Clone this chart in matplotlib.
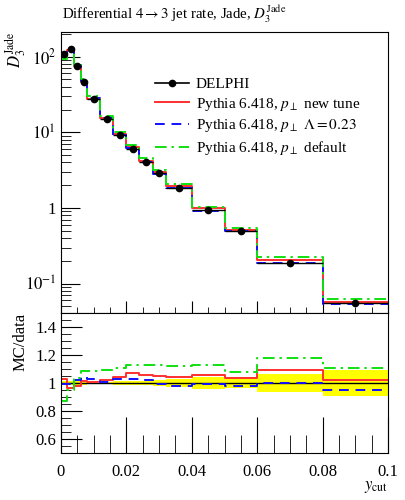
import numpy as np
import matplotlib
matplotlib.use("Agg")
import matplotlib.pyplot as plt
from matplotlib.lines import Line2D
from matplotlib.ticker import FixedLocator, MultipleLocator, LogLocator, NullFormatter

plt.rcParams["font.family"] = ["Liberation Serif", "DejaVu Serif"]
plt.rcParams["mathtext.fontset"] = "stix"

# bin edges in y_cut
edges = np.array([0.0, 0.002, 0.004, 0.006, 0.008, 0.012, 0.016, 0.020, 0.024,
                  0.028, 0.032, 0.040, 0.050, 0.060, 0.080, 0.100])

# DELPHI data and relative uncertainty
data = np.array([108, 125, 76, 46, 27.7, 15.1, 9.1, 6.0, 4.0, 2.86, 1.85, 0.93,
                 0.50, 0.19, 0.056])
data_rel_err = np.array([0.014, 0.012, 0.012, 0.012, 0.01, 0.01, 0.012, 0.015,
                         0.015, 0.02, 0.03, 0.04, 0.035, 0.065, 0.095])

# Pythia 6.418 predictions
mc_newtune = np.array([111.3, 120.8, 74.5, 46.6, 27.8, 15.4, 9.51, 6.42, 4.24,
                       3.01, 1.93, 0.986, 0.519, 0.207, 0.0573])
mc_lambda = np.array([106.9, 123.8, 77.9, 48.1, 28.4, 15.25, 9.37, 6.18, 4.08,
                      2.846, 1.813, 0.925, 0.490, 0.190, 0.0532])
mc_default = np.array([94.0, 118.8, 78.7, 50.0, 30.0, 16.53, 10.07, 6.78, 4.52,
                       3.22, 2.07, 1.047, 0.538, 0.224, 0.0622])

series = [
    (mc_newtune, "#ff3030", "-", r"Pythia 6.418, $p_\perp$ new tune"),
    (mc_lambda, "#1010ff", (0, (5, 3.5)), r"Pythia 6.418, $p_\perp$ $\Lambda = 0.23$"),
    (mc_default, "#10e010", (0, (6, 2.5, 1.2, 2.5)), r"Pythia 6.418, $p_\perp$ default"),
]

xticks = [0, 0.02, 0.04, 0.06, 0.08, 0.1]
xticklabels = ["0", "0.02", "0.04", "0.06", "0.08", "0.1"]

centers = 0.5 * (edges[:-1] + edges[1:])
halfw = 0.5 * np.diff(edges)

def stepvals(v):
    return np.append(v, v[-1])

fig = plt.figure(figsize=(4.06, 5.0), dpi=100)
ax = fig.add_axes([0.150, 0.374, 0.806, 0.562])
rax = fig.add_axes([0.150, 0.094, 0.806, 0.280])

# main panel
handles, labels = [], []
for vals, col, ls, lab in series:
    ln, = ax.step(edges, stepvals(vals), where="post", color=col, ls=ls, lw=1.4)
    handles.append(ln)
    labels.append(lab)
ax.errorbar(centers, data, xerr=halfw, yerr=data * data_rel_err, fmt="o",
            color="black", ms=4.5, lw=1.0, capsize=0, zorder=5)
handles.insert(0, Line2D([], [], color="black", lw=1.2, marker="o", ms=4.5))
labels.insert(0, "DELPHI")

ax.set_yscale("log")
ax.set_xlim(0, 0.1)
ax.set_ylim(0.041, 212)
ax.yaxis.set_major_locator(FixedLocator([0.1, 1, 10, 100]))
ax.set_yticklabels([r"$10^{-1}$", "1", r"$10^{1}$", r"$10^{2}$"])
ax.yaxis.set_minor_locator(LogLocator(base=10, subs=np.arange(2, 10)))
ax.yaxis.set_minor_formatter(NullFormatter())
ax.xaxis.set_major_locator(FixedLocator(xticks))
ax.xaxis.set_minor_locator(MultipleLocator(0.005))
ax.set_xticklabels([])
ax.tick_params(which="both", direction="in", top=False, right=False, labelsize=12)
ax.tick_params(axis="y", which="major", length=14)
ax.tick_params(axis="y", which="minor", length=7)
ax.tick_params(axis="x", which="major", length=9)
ax.tick_params(axis="x", which="minor", length=4)

ax.legend(handles, labels, loc="upper left", bbox_to_anchor=(0.27, 0.86),
          frameon=False, fontsize=11, handlelength=2.2, handletextpad=0.45,
          labelspacing=0.3, borderaxespad=0)

ax.set_ylabel(r"$D_3^{\mathrm{Jade}}$", fontsize=12, loc="top")
ax.yaxis.set_label_coords(-0.10, 1.0)
fig.text(0.153, 0.972, r"Differential $4 \rightarrow 3$ jet rate, Jade, $D_3^{\mathrm{Jade}}$",
         fontsize=10.7, ha="left", va="center")

# ratio panel
lo = stepvals(1 - data_rel_err)
hi = stepvals(1 + data_rel_err)
rax.fill_between(edges, lo, hi, step="post", color="#ffff00", lw=0)
rax.step(edges, stepvals(data / data), where="post", color="black", lw=1.0)
for vals, col, ls, lab in series:
    rax.step(edges, stepvals(vals / data), where="post", color=col, ls=ls, lw=1.4)

rax.set_xlim(0, 0.1)
rax.set_ylim(0.5, 1.5)
rax.yaxis.set_major_locator(FixedLocator([0.6, 0.8, 1.0, 1.2, 1.4]))
rax.set_yticklabels(["0.6", "0.8", "1", "1.2", "1.4"])
rax.yaxis.set_minor_locator(MultipleLocator(0.05))
rax.xaxis.set_major_locator(FixedLocator(xticks))
rax.xaxis.set_minor_locator(MultipleLocator(0.005))
rax.set_xticklabels(xticklabels)
rax.tick_params(which="both", direction="in", top=False, right=False, labelsize=12)
rax.tick_params(axis="y", which="major", length=15)
rax.tick_params(axis="y", which="minor", length=7)
rax.tick_params(axis="x", which="major", length=26, pad=8)
rax.tick_params(axis="x", which="minor", length=13)
rax.set_ylabel("MC/data", fontsize=12, loc="top")
rax.yaxis.set_label_coords(-0.10, 1.0)
rax.set_xlabel(r"$y_{\mathrm{cut}}$", fontsize=12, loc="right", labelpad=-1)

fig.savefig("out.png", dpi=100)
